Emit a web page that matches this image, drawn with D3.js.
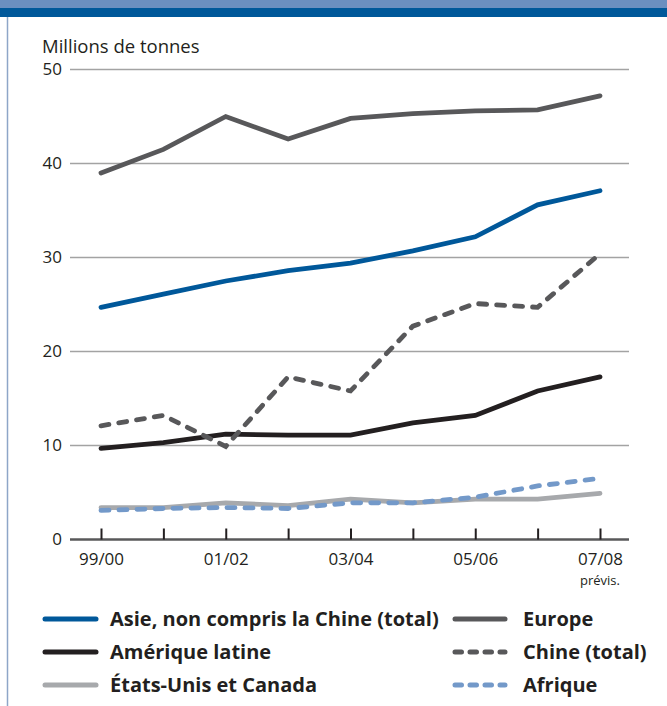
<!DOCTYPE html>
<html>
<head>
<meta charset="utf-8">
<script src="https://cdn.jsdelivr.net/npm/d3@7/dist/d3.min.js"></script>
<style>
  html, body { margin: 0; padding: 0; background: #fff; }
  svg { display: block; font-family: "Open Sans", "Noto Sans", sans-serif; }
</style>
</head>
<body>
<svg id="chart" width="667" height="706"></svg>
<script>
// Campaign years (9 seasons, one tick each; every other one labelled)
const seasons = ["99/00", "00/01", "01/02", "02/03", "03/04", "04/05", "05/06", "06/07", "07/08"];
const labelledSeasons = ["99/00", "01/02", "03/04", "05/06", "07/08"];
const yTicks = [0, 10, 20, 30, 40, 50];

// Millions de tonnes, by region
const europe   = [39.0, 41.5, 45.0, 42.6, 44.8, 45.3, 45.6, 45.7, 47.2];
const asie     = [24.7, 26.1, 27.5, 28.6, 29.4, 30.7, 32.2, 35.6, 37.1];
const chine    = [12.1, 13.2, 9.9, 17.3, 15.8, 22.7, 25.1, 24.7, 30.4];
const ameriqueLatine = [9.7, 10.3, 11.2, 11.1, 11.1, 12.4, 13.2, 15.8, 17.3];
const etatsUnisCanada = [3.4, 3.4, 3.9, 3.6, 4.3, 3.9, 4.3, 4.3, 4.9];
const afrique  = [3.1, 3.3, 3.4, 3.3, 3.9, 3.9, 4.5, 5.7, 6.5];

const series = [
  { name: "États-Unis et Canada", values: etatsUnisCanada, color: "#a7a9ac", dashed: false },
  { name: "Afrique", values: afrique, color: "#7399c9", dashed: true },
  { name: "Amérique latine", values: ameriqueLatine, color: "#231f20", dashed: false },
  { name: "Chine (total)", values: chine, color: "#58585a", dashed: true },
  { name: "Asie, non compris la Chine (total)", values: asie, color: "#00589a", dashed: false },
  { name: "Europe", values: europe, color: "#58585a", dashed: false }
];

// Legend order: two columns, three rows
const legendLeft  = ["Asie, non compris la Chine (total)", "Amérique latine", "États-Unis et Canada"];
const legendRight = ["Europe", "Chine (total)", "Afrique"];

const svg = d3.select("#chart");

// Header bands and left frame rule
svg.append("rect").attr("x", 0).attr("y", 0).attr("width", 667).attr("height", 8).attr("fill", "#6b8fc0");
svg.append("rect").attr("x", 0).attr("y", 8).attr("width", 667).attr("height", 9).attr("fill", "#00589a");
svg.append("line").attr("x1", 7.5).attr("x2", 7.5).attr("y1", 17).attr("y2", 706)
  .attr("stroke", "#8ea6c8").attr("stroke-width", 1.5);

const x = d3.scalePoint().domain(seasons).range([101, 600]);
const y = d3.scaleLinear().domain([0, 50]).range([539.5, 69.5]);
const gridX0 = 70, gridX1 = 629;

// Unit label
svg.append("text").attr("x", 42).attr("y", 53)
  .attr("font-size", 18.5).attr("fill", "#231f20").text("Millions de tonnes");

// Horizontal gridlines + y labels
const yAxis = d3.axisLeft(y).tickValues(yTicks).tickSize(0).tickPadding(8);
const yG = svg.append("g").attr("transform", `translate(${gridX0},0)`).call(yAxis);
yG.select(".domain").remove();
yG.selectAll("text").attr("font-size", 17).attr("fill", "#231f20")
  .attr("font-family", "'Open Sans', 'Noto Sans', sans-serif");

svg.append("g").selectAll("line").data(yTicks.filter(d => d > 0)).join("line")
  .attr("x1", gridX0).attr("x2", gridX1)
  .attr("y1", d => y(d)).attr("y2", d => y(d))
  .attr("stroke", "#a3a3a3").attr("stroke-width", 1.5);

// Bottom axis with upward ticks
const xAxis = d3.axisBottom(x).tickSizeInner(-11).tickSizeOuter(0)
  .tickFormat(d => labelledSeasons.includes(d) ? d : "").tickPadding(13);
const xG = svg.append("g").attr("transform", `translate(0,${y(0)})`).call(xAxis);
xG.select(".domain").attr("d", `M${gridX0},0H${gridX1}`)
  .attr("stroke", "#58585a").attr("stroke-width", 2.5);
xG.selectAll(".tick line").attr("stroke", "#231f20").attr("stroke-width", 2);
xG.selectAll("text").attr("font-size", 17).attr("fill", "#231f20")
  .attr("font-family", "'Open Sans', 'Noto Sans', sans-serif");

svg.append("text").attr("x", x("07/08")).attr("y", 585)
  .attr("text-anchor", "middle").attr("font-size", 13).attr("fill", "#231f20").text("prévis.");

// Series lines
const line = d3.line().x((d, i) => x(seasons[i])).y(d => y(d));
svg.append("g").selectAll("path").data(series).join("path")
  .attr("d", d => line(d.values))
  .attr("fill", "none")
  .attr("stroke", d => d.color)
  .attr("stroke-width", 4.8)
  .attr("stroke-linejoin", "miter")
  .attr("stroke-linecap", "round")
  .attr("stroke-dasharray", d => d.dashed ? "8,10" : null);

// Legend
const byName = new Map(series.map(s => [s.name, s]));
function drawLegend(names, lx0, lx1, tx) {
  const g = svg.append("g");
  const rows = g.selectAll("g").data(names.map(n => byName.get(n))).join("g")
    .attr("transform", (d, i) => `translate(0,${619 + i * 33})`);
  rows.append("line").attr("x1", lx0).attr("x2", lx1).attr("y1", 0).attr("y2", 0)
    .attr("stroke", d => d.color).attr("stroke-width", 5).attr("stroke-linecap", "round")
    .attr("stroke-dasharray", d => d.dashed ? "6.5,8.5" : null);
  rows.append("text").attr("x", tx).attr("y", 7)
    .attr("font-size", 20).attr("font-weight", "bold").attr("fill", "#231f20")
    .text(d => d.name);
}
drawLegend(legendLeft, 45, 96, 110);
drawLegend(legendRight, 455, 505, 523);
</script>
</body>
</html>
